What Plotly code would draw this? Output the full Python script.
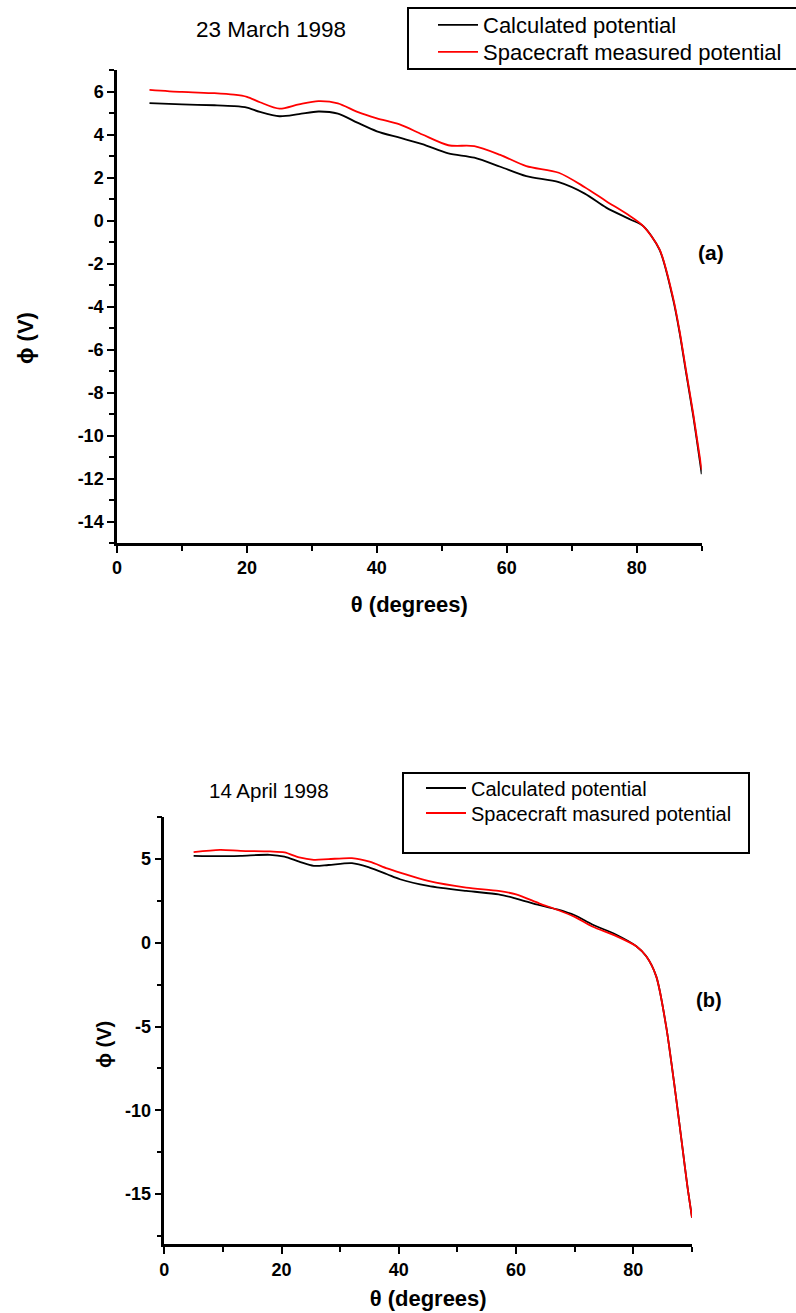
import plotly.graph_objects as go

# ---------------- data ----------------
# Panel (a): 23 March 1998
theta_a = [5, 10, 15, 18, 20, 22, 25, 28, 31, 34, 37, 40, 43.5, 47, 51, 55, 59, 63,
           68, 72, 75.3, 79, 81, 83.5, 85.6, 86.6, 87.6, 88.7, 90]
calc_a = [5.46, 5.40, 5.36, 5.32, 5.25, 5.05, 4.85, 4.95, 5.07, 4.97, 4.55, 4.15, 3.85,
          3.55, 3.12, 2.92, 2.5, 2.06, 1.78, 1.25, 0.6, 0.05, -0.26, -1.35, -3.67, -5.22,
          -7.09, -9.1, -11.8]
meas_a = [6.08, 5.98, 5.92, 5.85, 5.75, 5.5, 5.2, 5.4, 5.55, 5.45, 5.05, 4.75, 4.47,
          4.0, 3.5, 3.46, 3.05, 2.53, 2.22, 1.55, 0.9, 0.2, -0.26, -1.33, -3.6, -5.15,
          -7.0, -9.0, -11.6]

# Panel (b): 14 April 1998
theta_b = [5, 9.5, 13, 18, 20.5, 23, 25.5, 28, 32, 35, 38, 40.2, 45, 51.5, 57, 60, 64,
           67, 70, 73, 77, 80.5, 82.2, 83.9, 85.6, 86.5, 87.3, 88.4, 89.2, 90]
calc_b = [5.2, 5.18, 5.2, 5.26, 5.15, 4.85, 4.6, 4.65, 4.76, 4.5, 4.1, 3.8, 3.4, 3.1,
          2.9, 2.65, 2.25, 2.0, 1.65, 1.1, 0.5, -0.2, -0.8, -2.0, -5.0, -7.2, -9.3,
          -12.3, -14.5, -16.4]
meas_b = [5.42, 5.56, 5.5, 5.46, 5.4, 5.1, 4.96, 5.0, 5.06, 4.85, 4.45, 4.2, 3.7, 3.3,
          3.1, 2.9, 2.35, 1.98, 1.55, 0.98, 0.42, -0.2, -0.8, -2.0, -5.0, -7.2, -9.3,
          -12.3, -14.5, -16.4]

names_a = ["Calculated potential", "Spacecraft measured potential"]
names_b = ["Calculated potential", "Spacecraft masured potential"]
titles = ["23 March 1998", "14 April 1998"]
panel_tags = ["(a)", "(b)"]
x_title = "θ (degrees)"
y_title = "ϕ (V)"

x_ticks = [0, 20, 40, 60, 80]
x_ticktext = ["0", "20", "40", "60", "80"]
ya_ticks = [-14, -12, -10, -8, -6, -4, -2, 0, 2, 4, 6]
ya_ticktext = ["-14", "-12", "-10", "-8", "-6", "-4", "-2", "0", "2", "4", "6"]
yb_ticks = [-15, -10, -5, 0, 5]
yb_ticktext = ["-15", "-10", "-5", "0", "5"]

# ---------------- layout ----------------
W, H = 796, 1313
FONT = "Liberation Sans, Arial, sans-serif"


def px_x(p):
    return p / W


def px_y(p):
    return 1 - p / H


fig = go.Figure()

line_calc = dict(color="black", width=1.8, shape="spline", smoothing=0.8)
line_meas = dict(color="#ff0000", width=1.8, shape="spline", smoothing=0.8)

fig.add_trace(go.Scatter(x=theta_a, y=calc_a, mode="lines", name=names_a[0],
                         line=line_calc, xaxis="x", yaxis="y", legend="legend"))
fig.add_trace(go.Scatter(x=theta_a, y=meas_a, mode="lines", name=names_a[1],
                         line=line_meas, xaxis="x", yaxis="y", legend="legend2"))
fig.add_trace(go.Scatter(x=theta_b, y=calc_b, mode="lines", name=names_b[0],
                         line=line_calc, xaxis="x2", yaxis="y2", legend="legend3"))
fig.add_trace(go.Scatter(x=theta_b, y=meas_b, mode="lines", name=names_b[1],
                         line=line_meas, xaxis="x2", yaxis="y2", legend="legend4"))

tickfont = dict(family=FONT, size=18, color="black", weight="bold")
titlefont = dict(family=FONT, size=22, color="black", weight="bold")


def axis(domain, rng, tickvals, ticktext, minor_dtick, anchor, title=None, standoff=0):
    d = dict(
        domain=domain, range=rng, tickmode="array", tickvals=tickvals, ticktext=ticktext,
        anchor=anchor,
        showline=True, linecolor="black", linewidth=2.5, mirror=False,
        showgrid=False, zeroline=False,
        ticks="outside", ticklen=7, tickwidth=2, tickcolor="black",
        minor=dict(dtick=minor_dtick, tick0=0, ticks="outside", ticklen=5,
                   tickwidth=2, tickcolor="black", showgrid=False),
        tickfont=tickfont,
        automargin=False,
    )
    if title:
        d["title"] = dict(text=title, font=titlefont, standoff=standoff)
    return d


def legend_at(x, y, size):
    return dict(x=px_x(x), y=px_y(y), xanchor="left", yanchor="middle",
                bgcolor="rgba(0,0,0,0)", borderwidth=0,
                font=dict(family=FONT, size=size, color="black"),
                itemwidth=40)


def note(text, x, y, size, bold=False, angle=0):
    f = dict(family=FONT, size=size, color="black")
    if bold:
        f["weight"] = "bold"
    return dict(text=text, xref="paper", yref="paper", x=px_x(x), y=px_y(y),
                xanchor="center", yanchor="middle", textangle=angle,
                showarrow=False, font=f)


fig.update_layout(
    width=W, height=H,
    margin=dict(l=0, r=0, t=0, b=0),
    paper_bgcolor="white", plot_bgcolor="white",
    font=dict(family=FONT, color="black"),
    showlegend=True,
    xaxis=axis([px_x(117), px_x(701.7)], [0, 90], x_ticks, x_ticktext, 10, "y", x_title, 20),
    yaxis=axis([px_y(543), px_y(70)], [-15, 7], ya_ticks, ya_ticktext, 1, "x"),
    xaxis2=axis([px_x(164.3), px_x(692)], [0, 90], x_ticks, x_ticktext, 10, "y2", x_title, 12),
    yaxis2=axis([px_y(1244.3), px_y(817.3)], [-18, 7.5], yb_ticks, yb_ticktext, 2.5, "x2"),
    legend=legend_at(433, 25, 22),
    legend2=legend_at(433, 52, 22),
    legend3=legend_at(421, 788, 20),
    legend4=legend_at(421, 813, 20),
    shapes=[
        dict(type="rect", xref="paper", yref="paper",
             x0=px_x(408), x1=px_x(800), y0=px_y(69), y1=px_y(8),
             line=dict(color="black", width=2), fillcolor="rgba(0,0,0,0)"),
        dict(type="rect", xref="paper", yref="paper",
             x0=px_x(403), x1=px_x(749), y0=px_y(853), y1=px_y(773),
             line=dict(color="black", width=2), fillcolor="rgba(0,0,0,0)"),
    ],
    annotations=[
        note(titles[0], 271, 30, 22.5),
        note(titles[1], 269, 790, 20.5),
        note(panel_tags[0], 711, 252, 21, bold=True),
        note(panel_tags[1], 709, 1000, 20, bold=True),
        note(y_title, 25, 338, 22, bold=True, angle=-90),
        note(y_title, 104, 1045, 20, bold=True, angle=-90),
    ],
)

fig.write_html("out.html")
